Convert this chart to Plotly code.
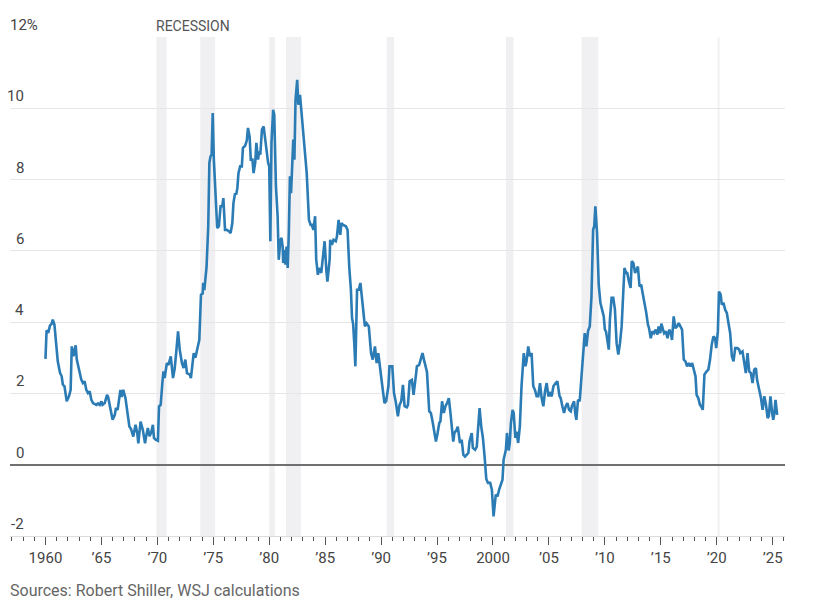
import plotly.graph_objects as go

years = [
    1960.0, 1960.1, 1960.25, 1960.4, 1960.55, 1960.65, 1960.8, 1960.95, 1961.1, 1961.3,
    1961.45, 1961.55, 1961.7, 1961.9, 1962.1, 1962.25, 1962.35, 1962.5, 1962.7, 1962.8,
    1963.0, 1963.2, 1963.35, 1963.5, 1963.65, 1963.8, 1963.95, 1964.1, 1964.25, 1964.4,
    1964.55, 1964.7, 1964.85, 1965.0, 1965.1, 1965.3, 1965.5, 1965.6, 1965.8, 1966.0,
    1966.2, 1966.3, 1966.45, 1966.7, 1966.8, 1966.95, 1967.15, 1967.35, 1967.5, 1967.65,
    1967.85, 1968.05, 1968.2, 1968.3, 1968.5, 1968.7, 1968.9, 1969.0, 1969.15, 1969.3,
    1969.45, 1969.6, 1969.7, 1969.85, 1970.05, 1970.15, 1970.3, 1970.45, 1970.55, 1970.65,
    1970.85, 1971.0, 1971.2, 1971.4, 1971.55, 1971.7, 1971.85, 1972.0, 1972.2, 1972.35,
    1972.5, 1972.65, 1972.9, 1973.0, 1973.25, 1973.4, 1973.55, 1973.75, 1973.9, 1974.05,
    1974.1, 1974.2, 1974.4, 1974.55, 1974.65, 1974.75, 1974.85, 1974.95, 1975.05, 1975.2,
    1975.35, 1975.5, 1975.65, 1975.8, 1975.9, 1976.05, 1976.2, 1976.4, 1976.55, 1976.7,
    1976.8, 1976.95, 1977.05, 1977.15, 1977.25, 1977.4, 1977.55, 1977.65, 1977.85, 1978.0,
    1978.1, 1978.25, 1978.35, 1978.5, 1978.6, 1978.75, 1978.85, 1979.0, 1979.1, 1979.2,
    1979.35, 1979.5, 1979.6, 1979.75, 1979.9, 1980.0, 1980.1, 1980.2, 1980.35, 1980.45,
    1980.6, 1980.75, 1980.85, 1981.0, 1981.1, 1981.2, 1981.25, 1981.4, 1981.45, 1981.55,
    1981.65, 1981.75, 1981.85, 1981.95, 1982.15, 1982.25, 1982.35, 1982.5, 1982.6, 1982.75,
    1982.85, 1983.1, 1983.25, 1983.35, 1983.55, 1983.7, 1983.8, 1983.95, 1984.1, 1984.2,
    1984.35, 1984.45, 1984.65, 1984.8, 1984.95, 1985.1, 1985.2, 1985.4, 1985.45, 1985.6,
    1985.75, 1985.95, 1986.05, 1986.2, 1986.35, 1986.45, 1986.6, 1986.85, 1987.0, 1987.15,
    1987.3, 1987.4, 1987.5, 1987.6, 1987.7, 1987.85, 1988.0, 1988.15, 1988.4, 1988.55,
    1988.7, 1988.9, 1989.1, 1989.25, 1989.45, 1989.6, 1989.75, 1989.9, 1990.0, 1990.15,
    1990.3, 1990.45, 1990.65, 1990.75, 1991.0, 1991.15, 1991.3, 1991.5, 1991.65, 1991.8,
    1991.95, 1992.1, 1992.3, 1992.4, 1992.55, 1992.75, 1992.9, 1993.1, 1993.2, 1993.4,
    1993.55, 1993.7, 1993.85, 1994.0, 1994.1, 1994.3, 1994.45, 1994.6, 1994.75, 1994.9,
    1995.05, 1995.2, 1995.3, 1995.45, 1995.6, 1995.75, 1995.9, 1996.05, 1996.2, 1996.35,
    1996.45, 1996.55, 1996.75, 1996.85, 1997.05, 1997.2, 1997.35, 1997.5, 1997.65, 1997.8,
    1997.9, 1998.1, 1998.2, 1998.4, 1998.55, 1998.7, 1998.8, 1998.95, 1999.1, 1999.25,
    1999.4, 1999.55, 1999.75, 1999.9, 2000.05, 2000.25, 2000.4, 2000.55, 2000.7, 2000.85,
    2000.95, 2001.15, 2001.25, 2001.4, 2001.5, 2001.6, 2001.75, 2001.85, 2002.0, 2002.1,
    2002.25, 2002.4, 2002.55, 2002.75, 2002.9, 2003.0, 2003.15, 2003.3, 2003.45, 2003.6,
    2003.75, 2003.9, 2004.05, 2004.2, 2004.35, 2004.5, 2004.65, 2004.8, 2004.95, 2005.1,
    2005.25, 2005.4, 2005.6, 2005.75, 2005.95, 2006.05, 2006.2, 2006.35, 2006.5, 2006.65,
    2006.8, 2006.95, 2007.05, 2007.25, 2007.35, 2007.45, 2007.6, 2007.75, 2007.9, 2008.05,
    2008.2, 2008.35, 2008.5, 2008.65, 2008.8, 2008.95, 2009.05, 2009.15, 2009.3, 2009.45,
    2009.6, 2009.75, 2009.9, 2010.0, 2010.1, 2010.35, 2010.45, 2010.6, 2010.75, 2010.9,
    2011.05, 2011.2, 2011.35, 2011.5, 2011.65, 2011.75, 2011.9, 2012.0, 2012.15, 2012.3,
    2012.4, 2012.55, 2012.7, 2012.85, 2012.95, 2013.1, 2013.25, 2013.35, 2013.5, 2013.7,
    2013.85, 2013.95, 2014.1, 2014.25, 2014.4, 2014.55, 2014.7, 2014.8, 2014.95, 2015.05,
    2015.2, 2015.3, 2015.45, 2015.6, 2015.75, 2015.9, 2016.0, 2016.15, 2016.3, 2016.45,
    2016.6, 2016.75, 2016.9, 2017.05, 2017.2, 2017.35, 2017.5, 2017.65, 2017.8, 2017.95,
    2018.1, 2018.2, 2018.35, 2018.5, 2018.6, 2018.75, 2018.9, 2019.1, 2019.25, 2019.4,
    2019.55, 2019.7, 2019.85, 2019.95, 2020.1, 2020.2, 2020.35, 2020.45, 2020.6, 2020.75,
    2020.9, 2021.05, 2021.2, 2021.35, 2021.5, 2021.65, 2021.85, 2022.0, 2022.1, 2022.3,
    2022.6, 2022.75, 2022.9, 2023.05, 2023.2, 2023.35, 2023.5, 2023.6, 2023.75, 2023.95,
    2024.1, 2024.25, 2024.4, 2024.55, 2024.65, 2024.7, 2024.8, 2024.95, 2025.05, 2025.15,
    2025.25, 2025.4,
]
values = [
    2.97, 3.77, 3.7, 3.9, 3.95, 4.07, 3.93, 3.5, 2.9, 2.58,
    2.48, 2.25, 2.2, 1.78, 1.92, 2.1, 3.32, 3.04, 3.35, 2.95,
    2.67, 2.39, 2.29, 2.34, 2.1, 2.01, 2.06, 1.82, 1.73, 1.7,
    1.68, 1.72, 1.68, 1.78, 1.68, 1.73, 1.96, 1.9, 1.54, 1.26,
    1.4, 1.59, 1.54, 2.1, 1.9, 2.1, 1.87, 1.45, 1.07, 1.0,
    0.79, 1.12, 0.9, 0.6, 1.21, 0.98, 0.6, 0.8, 1.03, 0.8,
    0.9, 1.12, 0.75, 0.7, 0.67, 1.64, 1.68, 2.3, 2.62, 2.43,
    2.85, 2.8, 3.04, 2.43, 2.7, 3.2, 3.74, 3.23, 2.85, 2.71,
    2.95, 2.57, 2.53, 2.43, 3.13, 3.0, 3.23, 3.5, 4.77, 4.8,
    5.1, 4.9, 5.56, 6.69, 8.47, 8.65, 8.7, 9.87, 8.56, 7.44,
    6.64, 6.69, 7.25, 7.25, 7.48, 6.59, 6.59, 6.55, 6.5, 6.78,
    7.34, 7.62, 7.58, 7.76, 8.18, 8.37, 8.37, 8.89, 8.95, 9.1,
    9.45, 9.2, 8.56, 8.56, 8.18, 8.48, 9.03, 8.56, 8.79, 8.7,
    9.4, 9.49, 9.2, 8.84, 8.47, 8.37, 6.27, 9.03, 9.96, 9.82,
    7.81, 6.97, 5.75, 6.31, 6.36, 6.12, 5.66, 6.03, 5.61, 6.12,
    5.52, 6.5, 8.09, 7.62, 9.12, 8.56, 10.24, 10.8, 10.1, 10.38,
    10.0, 9.21, 8.56, 8.18, 6.87, 6.73, 6.73, 6.59, 6.97, 5.75,
    5.33, 5.52, 5.38, 5.94, 6.27, 5.47, 5.14, 5.75, 6.31, 6.17,
    6.31, 6.27, 6.4, 6.87, 6.45, 6.78, 6.73, 6.69, 6.59, 5.56,
    4.91, 4.12, 3.95, 3.41, 2.76, 4.91, 4.91, 5.1, 4.21, 3.88,
    3.97, 3.88, 3.13, 2.95, 3.32, 2.85, 3.13, 2.8, 2.48, 2.1,
    1.73, 1.78, 2.2, 2.76, 2.76, 2.01, 1.78, 1.36, 1.68, 1.78,
    2.24, 1.64, 1.61, 1.68, 2.34, 2.38, 1.96, 2.48, 2.76, 2.8,
    2.95, 3.13, 2.92, 2.67, 2.6, 1.5, 1.45, 1.21, 0.89, 0.65,
    0.89, 1.17, 1.22, 1.78, 1.45, 1.64, 1.73, 1.87, 1.45, 1.07,
    0.65, 0.89, 0.98, 1.07, 0.61, 0.7, 0.28, 0.23, 0.28, 0.33,
    0.65, 0.89, 0.47, 0.42, 0.5, 1.07, 1.59, 1.07, 0.75, 0.23,
    -0.4, -0.51, -0.51, -0.7, -1.45, -0.84, -0.89, -0.7, -0.56, -0.42,
    0.14, 0.42, 0.89, 0.4, 0.61, 1.17, 1.54, 1.45, 0.75, 0.93,
    0.61, 1.07, 2.2, 3.13, 2.76, 2.9, 3.32, 3.04, 3.13, 2.2,
    2.1, 1.92, 1.92, 2.29, 1.87, 1.64, 2.06, 2.29, 1.92, 2.0,
    1.92, 2.2, 2.29, 2.34, 1.92, 1.87, 1.64, 1.45, 1.64, 1.73,
    1.54, 1.5, 1.64, 1.78, 1.45, 1.26, 1.82, 1.78, 2.43, 3.2,
    3.69, 3.32, 3.76, 3.88, 4.7, 6.59, 6.69, 7.25, 6.5, 5.05,
    4.54, 4.35, 4.16, 3.79, 3.74, 3.23, 4.07, 4.68, 4.68, 4.35,
    3.41, 3.09, 3.41, 3.88, 4.82, 5.52, 5.38, 5.38, 5.14, 4.96,
    5.71, 5.66, 5.38, 5.52, 5.56, 5.0, 5.05, 4.86, 4.63, 4.26,
    3.93, 3.83, 3.55, 3.74, 3.69, 3.79, 3.65, 3.88, 3.69, 3.96,
    3.79, 3.69, 3.74, 3.55, 3.79, 3.69, 3.5, 4.16, 3.83, 3.88,
    3.97, 3.88, 3.79, 2.95, 2.9, 2.76, 2.85, 2.76, 2.85, 2.67,
    2.48, 1.96, 1.87, 1.68, 1.64, 1.54, 2.53, 2.62, 2.67, 2.95,
    3.37, 3.6, 3.55, 3.27, 3.74, 4.86, 4.77, 4.49, 4.54, 4.35,
    4.26, 3.97, 3.69, 3.04, 2.9, 3.27, 3.27, 3.23, 3.13, 3.18,
    2.57, 3.13, 2.62, 2.57, 2.29, 2.67, 2.71, 2.39, 2.2, 1.87,
    1.54, 1.92, 1.68, 1.31, 1.36, 1.54, 1.92, 1.45, 1.26, 1.45,
    1.82, 1.4,
]

recession_starts = [1969.917, 1973.833, 1980.0, 1981.5, 1990.5, 2001.167, 2007.917, 2020.083]
recession_ends = [1970.833, 1975.167, 1980.5, 1982.833, 1991.167, 2001.833, 2009.417, 2020.25]

xtick_vals = [1960, 1965, 1970, 1975, 1980, 1985, 1990, 1995, 2000, 2005, 2010, 2015, 2020, 2025]
xtick_text = ["1960", "\u201965", "\u201970", "\u201975", "\u201980", "\u201985", "\u201990", "\u201995",
              "2000", "\u201905", "\u201910", "\u201915", "\u201920", "\u201925"]
ytick_vals = [-2, 0, 2, 4, 6, 8, 10, 12]
ytick_text = ["-2", "0", "2", "4", "6", "8", "10", "12%"]

FONT = "Liberation Sans Narrow, Roboto, Liberation Sans, sans-serif"
LINE_COLOR = "#2b7bb5"

fig = go.Figure()
fig.add_trace(go.Scatter(
    x=years, y=values, mode="lines",
    line=dict(color=LINE_COLOR, width=2.6),
    hoverinfo="skip", showlegend=False,
))

for s, e in zip(recession_starts, recession_ends):
    fig.add_shape(type="rect", xref="x", yref="paper", x0=s, x1=e, y0=0, y1=1,
                  fillcolor="#f0f0f2", line=dict(width=0), layer="below")

annotations = []
for v, t in zip(ytick_vals, ytick_text):
    if t.endswith("%"):
        annotations.append(dict(xref="paper", yref="y", x=0, y=v, text=t, showarrow=False,
                                xanchor="left", yanchor="bottom", xshift=-2, yshift=1,
                                font=dict(family=FONT, size=15, color="#444")))
    else:
        annotations.append(dict(xref="paper", yref="y", x=16 / 775, y=v, text=t, showarrow=False,
                                xanchor="right", yanchor="bottom", yshift=1,
                                font=dict(family=FONT, size=15, color="#444")))

annotations.append(dict(xref="x", yref="paper", x=recession_starts[0], y=1, text="RECESSION",
                        showarrow=False, xanchor="left", yanchor="bottom", xshift=-2, yshift=1,
                        font=dict(family=FONT, size=14, color="#555")))
annotations.append(dict(xref="paper", yref="paper", x=0, y=-0.11,
                        text="Sources: Robert Shiller, WSJ calculations",
                        showarrow=False, xanchor="left", yanchor="middle", xshift=-2,
                        font=dict(family=FONT, size=16, color="#666")))

fig.update_layout(
    width=813, height=613,
    margin=dict(l=10, r=28, t=37, b=77),
    paper_bgcolor="white", plot_bgcolor="white",
    font=dict(family=FONT, size=15, color="#444"),
    annotations=annotations,
    xaxis=dict(
        range=[1956.83, 2026.1],
        tickmode="array", tickvals=xtick_vals, ticktext=xtick_text,
        ticks="outside", ticklen=8, tickwidth=1, tickcolor="#555",
        showline=True, linecolor="#dcdcdc", linewidth=1,
        showgrid=False, zeroline=False,
        tickfont=dict(family=FONT, size=15, color="#444"),
        minor=dict(tick0=1960, dtick=1, ticks="outside", ticklen=4, tickcolor="#555", tickwidth=1, showgrid=False),
        fixedrange=True,
    ),
    yaxis=dict(
        range=[-2, 12],
        tickmode="array", tickvals=ytick_vals,
        showticklabels=False,
        showgrid=True, gridcolor="#e6e6e6", gridwidth=1,
        zeroline=True, zerolinecolor="#707070", zerolinewidth=2,
        fixedrange=True,
    ),
)

fig.write_html("out.html")
